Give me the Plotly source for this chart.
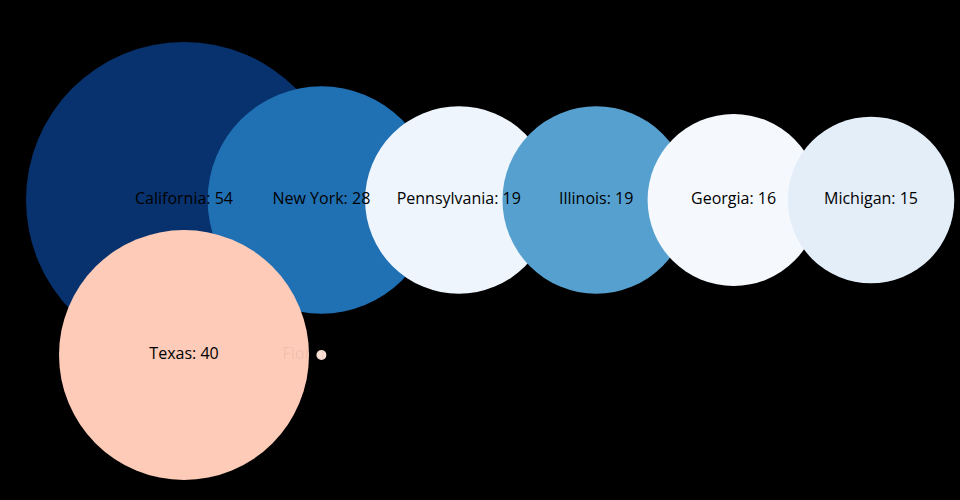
import plotly.graph_objects as go

# Row 1 data
row1_states = ["California", "New York", "Pennsylvania", "Illinois", "Georgia", "Michigan"]
row1_values = [54, 28, 19, 19, 16, 15]
row1_colors = ["#08326e", "#2070b4", "#eef5fd", "#56a0cf", "#f5f9fe", "#e3eef9"]

# Row 2 data
row2_states = ["Texas", "Florida"]
row2_values = [40, 30]
row2_sizes = [40, 0.064]
row2_colors = ["#fdcbb7", "#fde0d5"]
row2_text_colors = ["#000000", "rgba(0,0,0,0.07)"]

fig = go.Figure()

fig.add_trace(go.Scatter(
    x=list(range(len(row1_states))),
    y=[0] * len(row1_states),
    mode="markers+text",
    text=[f"{s}: {v}" for s, v in zip(row1_states, row1_values)],
    textposition="middle center",
    textfont=dict(family="Open Sans", size=16, color="#000000"),
    marker=dict(size=row1_values, sizemode="area",
                sizeref=2 * max(row1_values) / 316 ** 2,
                color=row1_colors, opacity=1, line=dict(width=0)),
    hoverinfo="text",
    showlegend=False,
))

fig.add_trace(go.Scatter(
    x=list(range(len(row2_states))),
    y=[1] * len(row2_states),
    mode="markers+text",
    text=[f"{s}: {v}" for s, v in zip(row2_states, row2_values)],
    textposition="middle center",
    textfont=dict(family="Open Sans", size=16, color=row2_text_colors),
    marker=dict(size=row2_sizes, sizemode="area",
                sizeref=2 * max(row2_sizes) / 250 ** 2,
                color=row2_colors, opacity=1, line=dict(width=0)),
    hoverinfo="text",
    showlegend=False,
))

fig.update_layout(
    width=960, height=500,
    margin=dict(l=0, r=0, t=0, b=0),
    paper_bgcolor="#000000",
    plot_bgcolor="#000000",
    xaxis=dict(visible=False, range=[-184 / 137.4, (960 - 184) / 137.4]),
    yaxis=dict(visible=False, range=[(500 - 200) / 155, -200 / 155]),
    font=dict(family="Open Sans"),
)

fig.write_html(
    "out.html",
    config={"displayModeBar": False},
    post_script="document.body.style.margin='0';document.body.style.background='#000';document.body.style.overflow='hidden';",
)
